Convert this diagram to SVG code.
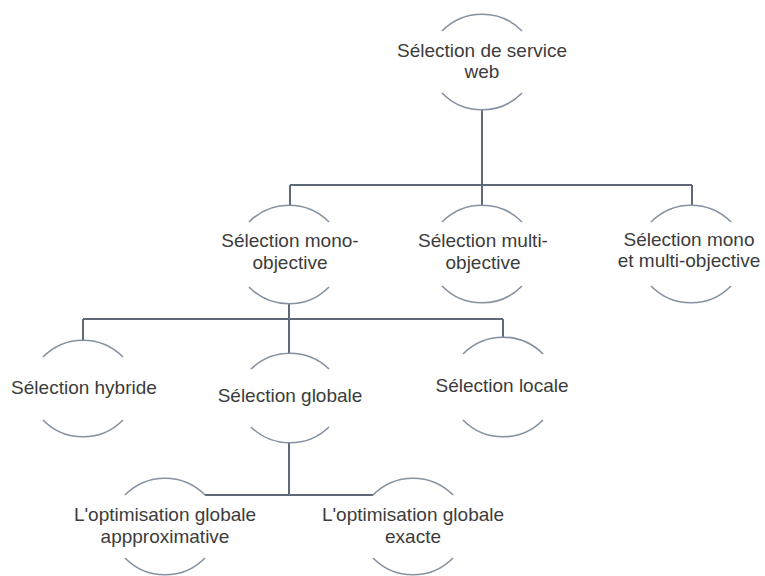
<svg xmlns="http://www.w3.org/2000/svg" width="765" height="576" viewBox="0 0 765 576">
  <style>
    .bg { fill: #ffffff; }
    .arc { fill: none; stroke: #8591a0; stroke-width: 1.6; }
    .link { fill: none; stroke: #5e6a7a; stroke-width: 2; }
    .label { font-family: "Liberation Sans", Arial, sans-serif; font-size: 19px; fill: #3c3c3c; text-anchor: middle; }
  </style>
  <rect class="bg" x="0" y="0" width="765" height="576"/>

  <!-- tree connectors -->
  <g id="connectors">
    <path class="link" d="M482,110 V185 M290,185 H692 M290,185 V205 M482,185 V205 M692,185 V205"/>
    <path class="link" d="M289,304 V319 M83,319 H503 M83,319 V340 M289,319 V353 M503,319 V337"/>
    <path class="link" d="M289,443 V495 M205,495 H373"/>
  </g>

  <!-- each node: upper and lower arcs of a circle around its label -->
  <g id="node-root">
    <path class="arc" d="M442,31 A56,56 0 0 1 522,31"/>
    <path class="arc" d="M442,93 A56,56 0 0 0 522,93"/>
    <text class="label" x="482" y="56.5">Sélection de service</text>
    <text class="label" x="482" y="78">web</text>
  </g>

  <g id="node-mono">
    <path class="arc" d="M249,222 A56,56 0 0 1 329,222"/>
    <path class="arc" d="M249,287 A56,56 0 0 0 329,287"/>
    <text class="label" x="290" y="247">Sélection mono-</text>
    <text class="label" x="290" y="268.5">objective</text>
  </g>

  <g id="node-multi">
    <path class="arc" d="M442,222 A56,56 0 0 1 522,222"/>
    <path class="arc" d="M442,286 A56,56 0 0 0 522,286"/>
    <text class="label" x="483" y="247">Sélection multi-</text>
    <text class="label" x="483" y="268.5">objective</text>
  </g>

  <g id="node-mono-multi">
    <path class="arc" d="M651,222 A56,56 0 0 1 731,222"/>
    <path class="arc" d="M651,286 A56,56 0 0 0 731,286"/>
    <text class="label" x="689" y="245.5">Sélection mono</text>
    <text class="label" x="689" y="267">et multi-objective</text>
  </g>

  <g id="node-hybride">
    <path class="arc" d="M43,357 A56,56 0 0 1 123,357"/>
    <path class="arc" d="M43,420 A56,56 0 0 0 123,420"/>
    <text class="label" x="84" y="394">Sélection hybride</text>
  </g>

  <g id="node-globale">
    <path class="arc" d="M251,369 A56,56 0 0 1 329,369"/>
    <path class="arc" d="M251,427 A56,56 0 0 0 329,427"/>
    <text class="label" x="290" y="402">Sélection globale</text>
  </g>

  <g id="node-locale">
    <path class="arc" d="M463,354 A56,56 0 0 1 543,354"/>
    <path class="arc" d="M463,420 A56,56 0 0 0 543,420"/>
    <text class="label" x="502" y="392">Sélection locale</text>
  </g>

  <g id="node-approx">
    <path class="arc" d="M125,495 A56,56 0 0 1 205,495"/>
    <path class="arc" d="M125,558 A56,56 0 0 0 205,558"/>
    <text class="label" x="165" y="521">L'optimisation globale</text>
    <text class="label" x="165" y="542.5">appproximative</text>
  </g>

  <g id="node-exacte">
    <path class="arc" d="M373,495 A56,56 0 0 1 453,495"/>
    <path class="arc" d="M373,558 A56,56 0 0 0 453,558"/>
    <text class="label" x="413" y="521">L'optimisation globale</text>
    <text class="label" x="413" y="542.5">exacte</text>
  </g>
</svg>
